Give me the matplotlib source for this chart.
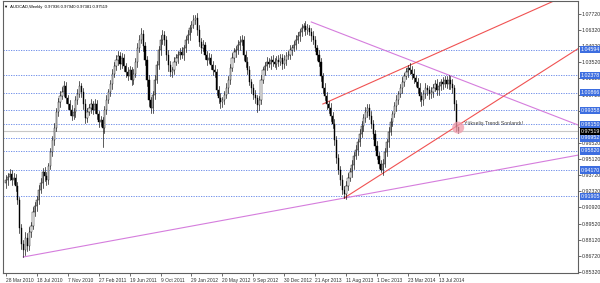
import matplotlib.pyplot as plt

plt.rcParams['font.family'] = ['Liberation Sans', 'DejaVu Sans']

# ---- weekly AUDCAD bars (28 Mar 2010 .. Aug 2014) ----
first_open = 0.9300
closes = [
    0.9331, 0.9357, 0.9383, 0.9331, 0.9348, 0.9279, 0.9157, 0.8914, 0.8775, 0.8723,
    0.8827, 0.8758, 0.8879, 0.8931, 0.9053, 0.9105, 0.9157, 0.9244, 0.9305, 0.9400,
    0.9365, 0.9331, 0.9452, 0.9574, 0.9678, 0.9782, 0.9921, 1.0008, 1.0060, 1.0094,
    1.0146, 1.0042, 0.9990, 0.9938, 0.9886, 0.9921, 1.0025, 1.0077, 1.0146, 1.0094,
    0.9990, 0.9869, 0.9921, 0.9956, 0.9990, 0.9938, 0.9990, 0.9903, 0.9834, 0.9851,
    0.9782, 0.9938, 1.0025, 1.0094, 1.0164, 1.0251, 1.0320, 1.0372, 1.0407, 1.0337,
    1.0390, 1.0320, 1.0268, 1.0233, 1.0285, 1.0199, 1.0251, 1.0355, 1.0476, 1.0546,
    1.0598, 1.0494, 1.0372, 1.0199, 1.0025, 0.9956, 1.0068, 1.0199, 1.0329, 1.0459,
    1.0546, 1.0589, 1.0546, 1.0416, 1.0329, 1.0268, 1.0285, 1.0355, 1.0390, 1.0416,
    1.0442, 1.0416, 1.0476, 1.0546, 1.0589, 1.0650, 1.0676, 1.0719, 1.0737, 1.0633,
    1.0528, 1.0476, 1.0502, 1.0416, 1.0372, 1.0390, 1.0329, 1.0285, 1.0268, 1.0112,
    1.0042, 1.0008, 1.0025, 1.0068, 1.0129, 1.0199, 1.0303, 1.0390, 1.0442, 1.0459,
    1.0502, 1.0528, 1.0546, 1.0416, 1.0355, 1.0285, 1.0181, 1.0129, 1.0068, 1.0042,
    0.9982, 1.0025, 1.0199, 1.0285, 1.0320, 1.0355, 1.0337, 1.0372, 1.0355, 1.0337,
    1.0372, 1.0355, 1.0390, 1.0337, 1.0372, 1.0407, 1.0416, 1.0459, 1.0476, 1.0502,
    1.0546, 1.0581, 1.0615, 1.0650, 1.0667, 1.0633, 1.0650, 1.0615, 1.0581, 1.0546,
    1.0476, 1.0416, 1.0355, 1.0233, 1.0129, 1.0060, 0.9990, 0.9956, 0.9886, 0.9817,
    0.9678, 0.9522, 0.9417, 0.9331, 0.9244, 0.9209, 0.9279, 0.9348, 0.9400, 0.9461,
    0.9539, 0.9591, 0.9660, 0.9730, 0.9799, 0.9869, 0.9921, 0.9956, 0.9886, 0.9817,
    0.9730, 0.9626, 0.9539, 0.9470, 0.9417, 0.9470, 0.9574, 0.9660, 0.9747, 0.9834,
    0.9903, 0.9973, 1.0025, 1.0077, 1.0129, 1.0181, 1.0233, 1.0268, 1.0303, 1.0285,
    1.0251, 1.0216, 1.0181, 1.0129, 1.0060, 1.0025, 1.0077, 1.0129, 1.0112, 1.0077,
    1.0094, 1.0129, 1.0164, 1.0112, 1.0146, 1.0181, 1.0164, 1.0199, 1.0164, 1.0199,
    1.0164, 1.0129, 0.9990, 0.97936, 0.97519,
]
# upper / lower wick length beyond the body, in pips
up_pips = [
    40, 35, 45, 30, 40, 35, 30, 25, 30, 35,  50, 40, 45, 35, 40, 30, 35, 45, 40, 35,
    40, 35, 30, 35, 30, 40, 35, 30, 45, 40,  40, 35, 30, 35, 40, 30, 35, 40, 45, 30,
    35, 40, 30, 35, 40, 30, 40, 35, 30, 35,  30, 35, 40, 30, 35, 40, 35, 45, 40, 35,
    40, 35, 30, 40, 35, 30, 40, 35, 45, 40,  50, 35, 30, 35, 40, 30, 35, 40, 30, 35,
    45, 40, 35, 30, 40, 35, 30, 40, 35, 30,  35, 40, 30, 35, 40, 30, 35, 40, 26, 40,
    40, 35, 45, 30, 35, 40, 30, 35, 40, 30,  35, 40, 30, 35, 40, 30, 35, 40, 30, 35,
    40, 50, 45, 35, 30, 40, 35, 30, 35, 40,  30, 35, 40, 30, 35, 40, 30, 35, 40, 30,
    35, 40, 30, 35, 40, 30, 35, 40, 30, 35,  40, 35, 30, 35, 26, 40, 35, 30, 35, 40,
    35, 30, 40, 35, 30, 40, 35, 30, 40, 35,  40, 35, 30, 35, 40, 30, 45, 40, 35, 40,
    35, 40, 30, 45, 40, 35, 40, 30, 35, 40,  35, 30, 40, 35, 30, 40, 35, 30, 40, 35,
    30, 35, 40, 30, 35, 40, 30, 35, 26, 40,  35, 40, 30, 35, 40, 30, 35, 40, 30, 35,
    40, 35, 30, 40, 35, 30, 40, 35, 30, 40,  35, 40, 30, 35, 0.4,
]
dn_pips = [
    35, 40, 30, 45, 35, 40, 35, 40, 45, 61,  40, 45, 35, 40, 30, 35, 40, 35, 30, 40,
    45, 40, 35, 30, 35, 40, 30, 35, 40, 30,  35, 40, 45, 40, 35, 30, 40, 35, 30, 40,
    45, 40, 35, 30, 40, 35, 30, 40, 45, 35,  165, 40, 35, 30, 35, 40, 30, 35, 40, 45,
    35, 40, 45, 35, 30, 40, 35, 30, 40, 35,  30, 40, 45, 50, 55, 45, 40, 35, 30, 35,
    40, 35, 45, 40, 50, 35, 40, 35, 30, 40,  35, 30, 40, 35, 30, 40, 35, 30, 35, 40,
    35, 40, 30, 35, 40, 30, 35, 40, 45, 40,  45, 50, 40, 35, 30, 40, 35, 30, 35, 40,
    35, 40, 30, 45, 40, 35, 30, 40, 35, 45,  61, 40, 35, 30, 40, 35, 30, 40, 35, 30,
    40, 35, 30, 45, 35, 40, 30, 35, 40, 30,  35, 30, 40, 35, 30, 40, 35, 30, 40, 35,
    30, 40, 35, 45, 40, 35, 40, 45, 40, 35,  45, 40, 35, 40, 35, 35, 40, 35, 30, 40,
    35, 30, 40, 35, 30, 40, 35, 40, 30, 35,  40, 35, 30, 35, 17, 40, 30, 35, 40, 30,
    35, 30, 40, 35, 30, 40, 35, 30, 40, 35,  40, 45, 35, 40, 45, 50, 40, 35, 40, 45,
    35, 40, 30, 45, 40, 35, 40, 30, 35, 40,  45, 40, 50, 35, 14,
]

date_bars = [0, 16, 32, 48, 64, 80, 96, 112, 128, 144, 160, 176, 192, 208, 224]
date_labels = ['28 Mar 2010', '18 Jul 2010', '7 Nov 2010', '27 Feb 2011', '19 Jun 2011',
               '9 Oct 2011', '29 Jan 2012', '20 May 2012', '9 Sep 2012', '30 Dec 2012',
               '21 Apr 2013', '11 Aug 2013', '1 Dec 2013', '23 Mar 2014', '13 Jul 2014']

price_ticks = [0.85320, 0.86720, 0.88120, 0.89520, 0.90920, 0.92320, 0.93720, 0.95120,
               0.96520, 0.97920, 0.99320, 1.00720, 1.02120, 1.03520, 1.04920, 1.06320, 1.07720]

# horizontal support / resistance levels (blue dotted) and their axis tags
level_prices = [1.04594, 1.02378, 1.00866, 0.99358, 0.98150, 0.96952, 0.95820, 0.94170, 0.91905]

last_price = 0.97519

# trend lines: (bar, price) -> (bar, price)
magenta_lines = [((9, 0.8662), (296, 0.9546)),
                 ((158, 1.0702), (296, 0.9808))]
red_lines = [((175, 0.9174), (296, 1.0470)),
             ((164, 0.9990), (283.5, 1.0884))]

note_text = 'Yükseliş Trendi Sonlandı!'

# ---- drawing ----
fig = plt.figure(figsize=(6.0, 2.83), dpi=100)
ax = fig.add_axes([3 / 600, 10 / 283, 575 / 600, 272 / 283])

ax.set_xlim(-1.5, 296)
ax.set_ylim(0.8523, 1.0884)

for lv in level_prices:
    ax.axhline(lv, color='#5b7fe6', linestyle=(0, (1.5, 1.5)), linewidth=0.6, zorder=1)
ax.axhline(last_price, color='#c8c8c8', linewidth=0.8, zorder=1)

opens = [first_open] + closes[:-1]
for i, (o, c) in enumerate(zip(opens, closes)):
    hi = max(o, c) + up_pips[i] / 10000
    lo = min(o, c) - dn_pips[i] / 10000
    ax.plot([i, i], [lo, hi], color='black', linewidth=0.45, zorder=3)
    body = abs(c - o) if abs(c - o) > 0.0003 else 0.0003
    ax.bar(i, body, bottom=min(o, c), width=0.6,
           color='white' if c >= o else 'black', edgecolor='black', linewidth=0.3, zorder=4)

for (x0, y0), (x1, y1) in magenta_lines:
    ax.plot([x0, x1], [y0, y1], color='#d57ddd', linewidth=0.8, zorder=2)
for (x0, y0), (x1, y1) in red_lines:
    ax.plot([x0, x1], [y0, y1], color='#f05252', linewidth=0.8, zorder=2)

ax.scatter([234], [0.9785], s=75, color='#f19aaa', alpha=0.75, edgecolors='none', zorder=5)
ax.text(237, 0.9817, note_text, fontsize=3.7, color='#404040', va='center', ha='left', zorder=6)

ax.text(0.002, 0.978, '\u25bc  AUDCAD,Weekly  0.97936 0.97940 0.97381 0.97519',
        transform=ax.transAxes, fontsize=3.0, color='black', va='center', ha='left')

# axes look (MT4 style)
ax.yaxis.tick_right()
ax.set_yticks(price_ticks)
ax.set_yticklabels(['%.5f' % p for p in price_ticks])
ax.tick_params(axis='y', labelsize=3.8, length=2, width=0.5, pad=0.6, colors='#303030')
ax.set_xticks(date_bars)
ax.set_xticklabels(date_labels, ha='left')
ax.tick_params(axis='x', labelsize=3.5, length=2.5, width=0.5, pad=0.8, colors='#303030')
for s in ax.spines.values():
    s.set_linewidth(0.8)
    s.set_color('#606060')

for lv in level_prices:
    ax.text(1.0045, lv, '%.5f' % lv, transform=ax.get_yaxis_transform(), fontsize=3.8,
            color='white', va='center', ha='left', clip_on=False, zorder=7,
            bbox=dict(boxstyle='square,pad=0.2', facecolor='#3d6ee0', edgecolor='none'))
ax.text(1.0045, last_price, '%.5f' % last_price, transform=ax.get_yaxis_transform(), fontsize=3.8,
        color='white', va='center', ha='left', clip_on=False, zorder=8,
        bbox=dict(boxstyle='square,pad=0.2', facecolor='black', edgecolor='none'))

fig.savefig('out.png', dpi=100)
